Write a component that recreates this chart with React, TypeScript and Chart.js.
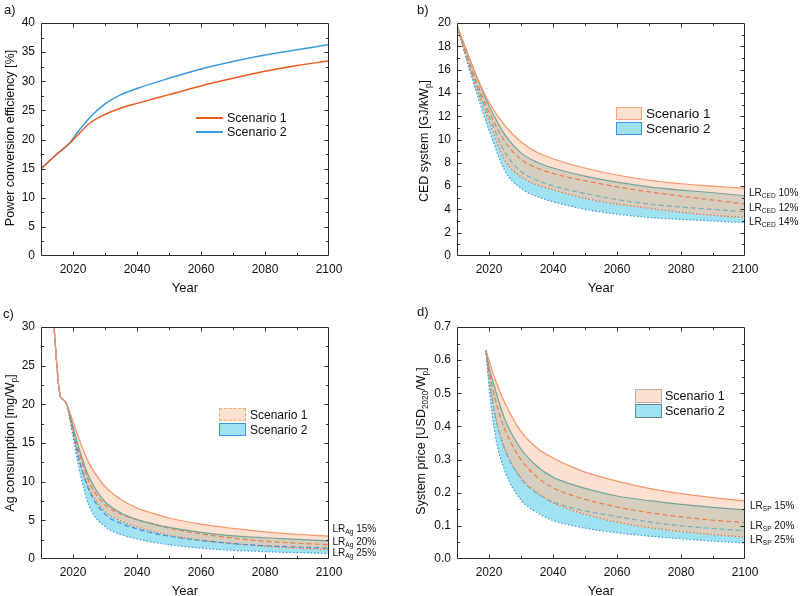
import React, { useEffect, useRef } from "react";
import { Chart, registerables } from "chart.js";

Chart.register(...registerables);

const FONT = "Arial, 'Liberation Sans', Helvetica, sans-serif";

// ---------- Panel a: power conversion efficiency ----------
const yearsEff = [2010, 2015, 2019, 2020, 2025, 2030, 2035, 2040, 2050, 2060, 2070, 2080, 2090, 2100];
const effScenario1 = [15.0, 17.5, 19.4, 19.9, 22.7, 24.3, 25.4, 26.2, 27.7, 29.2, 30.5, 31.7, 32.7, 33.5];
const effScenario2 = [15.0, 17.5, 19.4, 20.2, 23.6, 26.1, 27.7, 28.75, 30.5, 32.1, 33.4, 34.5, 35.4, 36.3];

// ---------- Panel b: CED system ----------
const yearsCed = [2010, 2013, 2016, 2020, 2025, 2030, 2035, 2040, 2050, 2060, 2070, 2080, 2090, 2100];
const cedS1Lr10 = [19.8, 17.6, 15.5, 13.2, 11.2, 9.8, 8.9, 8.35, 7.55, 6.95, 6.5, 6.2, 6.0, 5.8];
const cedS2Lr10 = [19.8, 17.6, 15.5, 12.9, 10.4, 8.85, 8.05, 7.55, 6.86, 6.34, 5.94, 5.66, 5.43, 5.17];
const cedS1Lr12 = [19.8, 17.3, 15.0, 12.4, 9.8, 8.3, 7.55, 7.08, 6.46, 5.94, 5.5, 5.14, 4.8, 4.46];
const cedS2Lr12 = [19.8, 17.1, 14.7, 12.0, 8.9, 7.25, 6.5, 6.02, 5.37, 4.85, 4.46, 4.2, 4.0, 3.8];
const cedS1Lr14 = [19.8, 17.0, 14.5, 11.6, 8.2, 6.8, 6.1, 5.68, 4.95, 4.46, 4.1, 3.75, 3.5, 3.3];
const cedS2Lr14 = [19.8, 16.8, 14.1, 10.8, 7.3, 5.8, 5.1, 4.66, 4.0, 3.6, 3.3, 3.14, 3.0, 2.86];

// ---------- Panel c: Ag consumption ----------
const yearsAg = [2014, 2015, 2016, 2017, 2018, 2020, 2022, 2025, 2030, 2035, 2040, 2045, 2050, 2060, 2070, 2080, 2090, 2100];
const agS1Lr15 = [30.5, 24.8, 21.1, 20.6, 20.0, 17.8, 15.4, 12.4, 9.4, 7.7, 6.6, 5.9, 5.3, 4.5, 3.95, 3.5, 3.2, 2.95];
const agS2Lr15 = [30.5, 24.8, 21.1, 20.6, 20.0, 17.1, 14.1, 10.6, 7.4, 5.95, 5.1, 4.55, 4.1, 3.45, 3.0, 2.75, 2.55, 2.35];
const agS1Lr20 = [30.5, 24.8, 21.1, 20.6, 20.0, 16.9, 13.7, 10.0, 7.0, 5.8, 5.1, 4.5, 4.0, 3.25, 2.7, 2.3, 2.05, 1.85];
const agS2Lr20 = [30.5, 24.8, 21.1, 20.6, 20.0, 16.5, 12.8, 8.9, 5.8, 4.6, 3.9, 3.35, 2.95, 2.4, 2.0, 1.72, 1.55, 1.4];
const agS1Lr25 = [30.5, 24.8, 21.1, 20.6, 20.0, 16.3, 12.6, 9.1, 6.2, 4.9, 4.15, 3.55, 3.1, 2.4, 1.98, 1.65, 1.4, 1.2];
const agS2Lr25 = [30.5, 24.8, 21.1, 20.6, 20.0, 15.8, 11.5, 6.9, 4.2, 3.15, 2.6, 2.15, 1.85, 1.4, 1.12, 0.95, 0.82, 0.72];

// ---------- Panel d: System price ----------
const yearsPrice = [2019, 2020, 2022, 2025, 2030, 2035, 2040, 2045, 2050, 2060, 2070, 2080, 2090, 2100];
const spS1Lr15 = [0.63, 0.6, 0.54, 0.47, 0.385, 0.335, 0.305, 0.282, 0.262, 0.235, 0.213, 0.197, 0.185, 0.175];
const spS2Lr15 = [0.63, 0.58, 0.51, 0.42, 0.332, 0.28, 0.247, 0.228, 0.213, 0.19, 0.176, 0.165, 0.156, 0.148];
const spS1Lr20 = [0.63, 0.57, 0.48, 0.39, 0.3, 0.248, 0.215, 0.195, 0.18, 0.157, 0.14, 0.127, 0.117, 0.11];
const spS2Lr20 = [0.63, 0.55, 0.43, 0.33, 0.242, 0.198, 0.172, 0.157, 0.145, 0.128, 0.112, 0.1, 0.092, 0.085];
const spS1Lr25 = [0.63, 0.55, 0.43, 0.33, 0.245, 0.2, 0.17, 0.15, 0.135, 0.111, 0.095, 0.083, 0.074, 0.066];
const spS2Lr25 = [0.63, 0.52, 0.37, 0.265, 0.178, 0.14, 0.116, 0.103, 0.093, 0.079, 0.069, 0.061, 0.054, 0.048];

const xTickValues = [2020, 2040, 2060, 2080, 2100];

const C = {
  s1: "#f05a1e",
  s2: "#3a9ae0",
  orange: "#f4956a",
  orangeDash: "#ee7a45",
  orangeDot: "#ee6a35",
  teal: "#6fa59c",
  tealDash: "#74b0b8",
  blueDash: "#3d8fe0",
  blueDot: "#3f9be6",
  peach: "#fde0cf",
  overlap: "#d6cfbf",
  cyan: "#a0e2f2",
};

const framePlugin = {
  id: "frameTicks",
  afterDatasetsDraw(chart: any, _args: any, opts: any) {
    const { ctx, chartArea } = chart;
    const xs = chart.scales.x;
    const ys = chart.scales.y;
    const L = Math.round(chartArea.left) + 0.5;
    const R = Math.round(chartArea.right) - 0.5;
    const T = Math.round(chartArea.top) + 0.5;
    const B = Math.round(chartArea.bottom) - 0.5;
    ctx.save();
    ctx.strokeStyle = "#2b2b2b";
    ctx.lineWidth = 1;
    ctx.beginPath();
    ctx.rect(L, T, R - L, B - T);
    ctx.stroke();
    ctx.beginPath();
    const nx = Math.round((xs.max - xs.min) / opts.xMinor);
    for (let i = 1; i < nx; i++) {
      const v = xs.min + i * opts.xMinor;
      const px = Math.round(xs.getPixelForValue(v)) + 0.5;
      const major = Math.abs(v / opts.xMajor - Math.round(v / opts.xMajor)) < 1e-6;
      const len = major ? 4 : 2.5;
      ctx.moveTo(px, B);
      ctx.lineTo(px, B - len);
      ctx.moveTo(px, T);
      ctx.lineTo(px, T + len);
    }
    const ny = Math.round((ys.max - ys.min) / opts.yMinor);
    for (let i = 1; i < ny; i++) {
      const v = ys.min + i * opts.yMinor;
      const py = Math.round(ys.getPixelForValue(v)) + 0.5;
      const len = i % 2 === 0 ? 4 : 2.5;
      ctx.moveTo(L, py);
      ctx.lineTo(L + len, py);
      ctx.moveTo(R, py);
      ctx.lineTo(R - len, py);
    }
    ctx.stroke();
    ctx.restore();
  },
};

type OptP = {
  padTop: number;
  padRight: number;
  yWidth: number;
  xHeight: number;
  yMax: number;
  yStep: number;
  yMinor: number;
  dec: number;
};

function buildOptions(p: OptP) {
  const tickFont = { family: FONT, size: 12 };
  return {
    responsive: false,
    maintainAspectRatio: false,
    animation: false,
    events: [],
    layout: { padding: { left: 0, top: p.padTop, right: p.padRight, bottom: 0 } },
    elements: {
      point: { radius: 0 },
      line: { borderWidth: 1.2, cubicInterpolationMode: "monotone" },
    },
    plugins: {
      legend: { display: false },
      tooltip: { enabled: false },
      filler: { drawTime: "beforeDatasetsDraw" },
      frameTicks: { xMinor: 10, xMajor: 20, yMinor: p.yMinor },
    },
    scales: {
      x: {
        type: "linear",
        min: 2010,
        max: 2100,
        grid: { display: false, drawTicks: false },
        border: { display: false },
        afterBuildTicks: (s: any) => {
          s.ticks = xTickValues.map((v) => ({ value: v }));
        },
        afterFit: (s: any) => {
          s.height = p.xHeight;
        },
        ticks: {
          padding: 6,
          color: "#111",
          font: tickFont,
          maxRotation: 0,
          autoSkip: false,
          callback: (v: any) => String(v),
        },
      },
      y: {
        type: "linear",
        min: 0,
        max: p.yMax,
        grid: { display: false, drawTicks: false },
        border: { display: false },
        afterFit: (s: any) => {
          s.width = p.yWidth;
        },
        ticks: {
          stepSize: p.yStep,
          padding: 6,
          color: "#111",
          font: tickFont,
          callback: (v: any) => Number(v).toFixed(p.dec),
        },
      },
    },
  };
}

const pts = (years: number[], arr: number[]) => arr.map((y, i) => ({ x: years[i], y }));

function bandDatasets(
  years: number[],
  s1Hi: number[],
  s2Hi: number[],
  s1Mid: number[],
  s2Mid: number[],
  s1Lo: number[],
  s2Lo: number[],
  midColor: string
) {
  return [
    { data: pts(years, s1Hi), borderColor: C.orange, fill: { target: 1, above: C.peach, below: C.peach } },
    { data: pts(years, s2Hi), borderColor: C.teal, fill: { target: 4, above: C.overlap, below: C.overlap } },
    { data: pts(years, s1Mid), borderColor: C.orangeDash, borderDash: [5, 3], fill: false },
    { data: pts(years, s2Mid), borderColor: midColor, borderDash: [5, 3], fill: false },
    { data: pts(years, s1Lo), borderColor: C.orangeDot, borderDash: [1.5, 2], fill: { target: 5, above: C.cyan, below: C.cyan } },
    { data: pts(years, s2Lo), borderColor: C.blueDot, borderDash: [1.5, 2], fill: false },
  ];
}

function makeA() {
  return {
    type: "line",
    data: {
      datasets: [
        { data: pts(yearsEff, effScenario1), borderColor: C.s1, borderWidth: 1.5, fill: false },
        { data: pts(yearsEff, effScenario2), borderColor: C.s2, borderWidth: 1.5, fill: false },
      ],
    },
    options: buildOptions({ padTop: 23, padRight: 71, yWidth: 41, xHeight: 34, yMax: 40, yStep: 5, yMinor: 2.5, dec: 0 }),
    plugins: [framePlugin],
  };
}

function makeB() {
  return {
    type: "line",
    data: { datasets: bandDatasets(yearsCed, cedS1Lr10, cedS2Lr10, cedS1Lr12, cedS2Lr12, cedS1Lr14, cedS2Lr14, C.tealDash) },
    options: buildOptions({ padTop: 23, padRight: 55, yWidth: 57, xHeight: 34, yMax: 20, yStep: 2, yMinor: 1, dec: 0 }),
    plugins: [framePlugin],
  };
}

function makeC() {
  return {
    type: "line",
    data: { datasets: bandDatasets(yearsAg, agS1Lr15, agS2Lr15, agS1Lr20, agS2Lr20, agS1Lr25, agS2Lr25, C.blueDash) },
    options: buildOptions({ padTop: 37, padRight: 71, yWidth: 41, xHeight: 37, yMax: 30, yStep: 5, yMinor: 2.5, dec: 0 }),
    plugins: [framePlugin],
  };
}

function makeD() {
  return {
    type: "line",
    data: { datasets: bandDatasets(yearsPrice, spS1Lr15, spS2Lr15, spS1Lr20, spS2Lr20, spS1Lr25, spS2Lr25, C.tealDash) },
    options: buildOptions({ padTop: 37, padRight: 55, yWidth: 57, xHeight: 37, yMax: 0.7, yStep: 0.1, yMinor: 0.05, dec: 1 }),
    plugins: [framePlugin],
  };
}

function ChartPanel({ left, top, width, height, make }: any) {
  const ref = useRef<HTMLCanvasElement | null>(null);
  useEffect(() => {
    const chart = new Chart(ref.current as HTMLCanvasElement, make());
    return () => chart.destroy();
  }, []);
  return (
    <canvas
      ref={ref}
      width={width}
      height={height}
      style={{ position: "absolute", left, top, width, height, display: "block" }}
    />
  );
}

function Txt({ x, y, size = 12, align = "left", rotate = false, children }: any) {
  const tx = align === "center" ? "-50%" : "0";
  const transform = rotate ? "translate(-50%,-50%) rotate(-90deg)" : `translate(${tx},-50%)`;
  return (
    <div
      style={{
        position: "absolute",
        left: x,
        top: y,
        transform,
        whiteSpace: "nowrap",
        fontFamily: FONT,
        fontSize: size,
        lineHeight: 1,
        color: "#111",
      }}
    >
      {children}
    </div>
  );
}

function Sub({ children }: any) {
  return <span style={{ fontSize: "0.66em", position: "relative", top: "0.32em" }}>{children}</span>;
}

function Box({ x, y, w, h, fill, border, dashed }: any) {
  return (
    <div
      style={{
        position: "absolute",
        left: x,
        top: y,
        width: w,
        height: h,
        boxSizing: "border-box",
        background: fill,
        border: `1px ${dashed ? "dashed" : "solid"} ${border}`,
      }}
    />
  );
}

function LineSwatch({ x, y, w, color }: any) {
  return <div style={{ position: "absolute", left: x, top: y - 1, width: w, height: 2, background: color }} />;
}

export default function App() {
  return (
    <div style={{ position: "fixed", left: 0, top: 0, width: 800, height: 596, background: "#fff", overflow: "hidden" }}>
      <ChartPanel left={0} top={0} width={400} height={290} make={makeA} />
      <ChartPanel left={400} top={0} width={400} height={290} make={makeB} />
      <ChartPanel left={0} top={290} width={400} height={306} make={makeC} />
      <ChartPanel left={400} top={290} width={400} height={306} make={makeD} />

      {/* panel letters */}
      <Txt x={4} y={9} size={13}>a)</Txt>
      <Txt x={417} y={9} size={13}>b)</Txt>
      <Txt x={3} y={313} size={13}>c)</Txt>
      <Txt x={417} y={311} size={13}>d)</Txt>

      {/* x titles */}
      <Txt x={185} y={287} size={13} align="center">Year</Txt>
      <Txt x={601} y={287} size={13} align="center">Year</Txt>
      <Txt x={185} y={590} size={13} align="center">Year</Txt>
      <Txt x={601} y={590} size={13} align="center">Year</Txt>

      {/* y titles */}
      <Txt x={10} y={138} size={12.5} rotate>Power conversion efficiency [%]</Txt>
      <Txt x={424} y={141} size={12.5} rotate>CED system [GJ/kW<Sub>p</Sub>]</Txt>
      <Txt x={10} y={443} size={12.5} rotate>Ag consumption [mg/W<Sub>p</Sub>]</Txt>
      <Txt x={421} y={441} size={12.5} rotate>System price [USD<Sub>2020</Sub>/W<Sub>p</Sub>]</Txt>

      {/* legend a */}
      <LineSwatch x={196} y={117.5} w={27} color={C.s1} />
      <LineSwatch x={196} y={132} w={27} color={C.s2} />
      <Txt x={227} y={117.5} size={12.5}>Scenario 1</Txt>
      <Txt x={227} y={132} size={12.5}>Scenario 2</Txt>

      {/* legend b */}
      <Box x={616} y={107} w={26} h={13} fill={C.peach} border="#f5a57a" />
      <Box x={616} y={122} w={26} h={13} fill={C.cyan} border="#3a94e0" />
      <Txt x={646} y={113.7} size={13.5}>Scenario 1</Txt>
      <Txt x={646} y={128.5} size={13.5}>Scenario 2</Txt>

      {/* legend c */}
      <Box x={219} y={408} w={27} h={13} fill={C.peach} border="#f5a57a" dashed />
      <Box x={219} y={423} w={27} h={13} fill={C.cyan} border="#3a94e0" />
      <Txt x={250} y={414.7} size={12}>Scenario 1</Txt>
      <Txt x={250} y={429.7} size={12}>Scenario 2</Txt>

      {/* legend d */}
      <Box x={635} y={389} w={27} h={14} fill={C.peach} border="#b8b0a8" />
      <Box x={635} y={404} w={27} h={14} fill={C.cyan} border="#5f8a88" />
      <Txt x={665} y={396} size={12.5}>Scenario 1</Txt>
      <Txt x={665} y={411} size={12.5}>Scenario 2</Txt>

      {/* LR labels b */}
      <Txt x={749} y={192.7} size={10}>LR<Sub>CED</Sub> 10%</Txt>
      <Txt x={749} y={208.3} size={10}>LR<Sub>CED</Sub> 12%</Txt>
      <Txt x={749} y={221.7} size={10}>LR<Sub>CED</Sub> 14%</Txt>

      {/* LR labels c */}
      <Txt x={332.5} y={529.3} size={10}>LR<Sub>Ag</Sub> 15%</Txt>
      <Txt x={332.5} y={542.3} size={10}>LR<Sub>Ag</Sub> 20%</Txt>
      <Txt x={332.5} y={553.3} size={10}>LR<Sub>Ag</Sub> 25%</Txt>

      {/* LR labels d */}
      <Txt x={750} y={506} size={10}>LR<Sub>SP</Sub> 15%</Txt>
      <Txt x={750} y={525.7} size={10}>LR<Sub>SP</Sub> 20%</Txt>
      <Txt x={750} y={540} size={10}>LR<Sub>SP</Sub> 25%</Txt>
    </div>
  );
}
